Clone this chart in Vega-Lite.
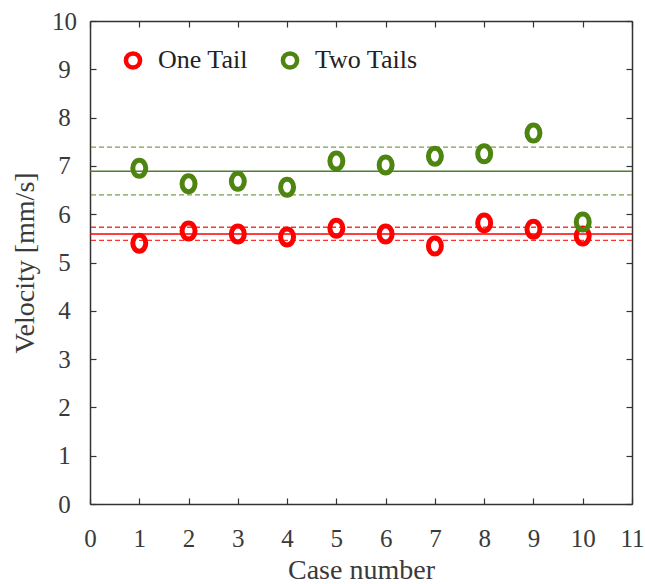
{
  "$schema": "https://vega.github.io/schema/vega-lite/v6.json",
  "width": 542,
  "height": 483,
  "autosize": {"type": "none"},
  "padding": {"left": 90, "top": 21, "right": 13, "bottom": 80},
  "background": "white",
  "config": {
    "view": {"stroke": null},
    "axis": {
      "grid": false,
      "domainColor": "#333333",
      "domainWidth": 1.5,
      "tickColor": "#333333",
      "tickWidth": 1.2,
      "tickSize": -6,
      "labelFlush": false,
      "labelFont": "Times New Roman, Liberation Serif, serif",
      "labelFontSize": 25,
      "labelColor": "#3a3a3a",
      "titleFont": "Times New Roman, Liberation Serif, serif",
      "titleFontSize": 28,
      "titleFontWeight": "normal",
      "titleColor": "#3a3a3a"
    },
    "legend": {
      "labelFont": "Times New Roman, Liberation Serif, serif",
      "labelFontSize": 26,
      "labelColor": "#222222"
    }
  },
  "datasets": {
    "points": [
      {"case": 1, "velocity": 5.40, "series": "One Tail"},
      {"case": 2, "velocity": 5.65, "series": "One Tail"},
      {"case": 3, "velocity": 5.59, "series": "One Tail"},
      {"case": 4, "velocity": 5.53, "series": "One Tail"},
      {"case": 5, "velocity": 5.71, "series": "One Tail"},
      {"case": 6, "velocity": 5.59, "series": "One Tail"},
      {"case": 7, "velocity": 5.34, "series": "One Tail"},
      {"case": 8, "velocity": 5.82, "series": "One Tail"},
      {"case": 9, "velocity": 5.69, "series": "One Tail"},
      {"case": 10, "velocity": 5.55, "series": "One Tail"},
      {"case": 1, "velocity": 6.95, "series": "Two Tails"},
      {"case": 2, "velocity": 6.63, "series": "Two Tails"},
      {"case": 3, "velocity": 6.68, "series": "Two Tails"},
      {"case": 4, "velocity": 6.56, "series": "Two Tails"},
      {"case": 5, "velocity": 7.10, "series": "Two Tails"},
      {"case": 6, "velocity": 7.02, "series": "Two Tails"},
      {"case": 7, "velocity": 7.20, "series": "Two Tails"},
      {"case": 8, "velocity": 7.25, "series": "Two Tails"},
      {"case": 9, "velocity": 7.68, "series": "Two Tails"},
      {"case": 10, "velocity": 5.84, "series": "Two Tails"}
    ],
    "lines": [
      {"series": "One Tail", "kind": "mean", "velocity": 5.59},
      {"series": "One Tail", "kind": "bound", "velocity": 5.73},
      {"series": "One Tail", "kind": "bound", "velocity": 5.46},
      {"series": "Two Tails", "kind": "mean", "velocity": 6.89},
      {"series": "Two Tails", "kind": "bound", "velocity": 7.39},
      {"series": "Two Tails", "kind": "bound", "velocity": 6.40}
    ]
  },
  "layer": [
    {
      "data": {"name": "lines"},
      "transform": [{"filter": "datum.series === 'One Tail' && datum.kind === 'bound'"}],
      "mark": {"type": "rule", "strokeWidth": 1.3, "color": "#ff3030", "strokeDash": [5, 3]},
      "encoding": {"y": {"field": "velocity", "type": "quantitative", "scale": {"domain": [0, 10]}, "axis": null}}
    },
    {
      "data": {"name": "lines"},
      "transform": [{"filter": "datum.series === 'One Tail' && datum.kind === 'mean'"}],
      "mark": {"type": "rule", "strokeWidth": 1.4, "color": "#ff0000"},
      "encoding": {"y": {"field": "velocity", "type": "quantitative", "scale": {"domain": [0, 10]}, "axis": null}}
    },
    {
      "data": {"name": "lines"},
      "transform": [{"filter": "datum.series === 'Two Tails' && datum.kind === 'bound'"}],
      "mark": {"type": "rule", "strokeWidth": 1.3, "color": "#7a9e4a", "strokeDash": [5, 3]},
      "encoding": {"y": {"field": "velocity", "type": "quantitative", "scale": {"domain": [0, 10]}, "axis": null}}
    },
    {
      "data": {"name": "lines"},
      "transform": [{"filter": "datum.series === 'Two Tails' && datum.kind === 'mean'"}],
      "mark": {"type": "rule", "strokeWidth": 1.4, "color": "#4e7f2a"},
      "encoding": {"y": {"field": "velocity", "type": "quantitative", "scale": {"domain": [0, 10]}, "axis": null}}
    },
    {
      "data": {"name": "points"},
      "mark": {"type": "point", "shape": "M-0.81,0A0.81,1 0 1,1 0.81,0A0.81,1 0 1,1 -0.81,0Z", "filled": false, "strokeWidth": 5, "size": 256, "opacity": 1},
      "encoding": {
        "x": {"field": "case", "type": "quantitative", "scale": {"domain": [0, 11]}, "axis": {"orient": "bottom", "values": [0,1,2,3,4,5,6,7,8,9,10,11], "title": "Case number", "labelPadding": 28, "titleY": 66, "titleBaseline": "middle"}},
        "y": {"field": "velocity", "type": "quantitative", "scale": {"domain": [0, 10]}, "axis": {"orient": "left", "values": [0,1,2,3,4,5,6,7,8,9,10], "title": "Velocity [mm/s]", "labelPadding": 32, "labelAlign": "center", "titleX": -65, "titleBaseline": "middle"}},
        "color": {"field": "series", "type": "nominal", "scale": {"domain": ["One Tail", "Two Tails"], "range": ["#ff0000", "#4e8410"]},
          "legend": {"title": null, "orient": "none", "legendX": 30, "legendY": 26, "direction": "horizontal", "symbolType": "circle", "symbolSize": 200, "symbolStrokeWidth": 4.5, "symbolFillColor": "white", "labelOffset": 12, "columnPadding": 25}}
      }
    },
    {
      "data": {"name": "points"},
      "mark": {"type": "point", "opacity": 0},
      "encoding": {
        "x": {"field": "case", "type": "quantitative", "scale": {"domain": [0, 11]}, "axis": {"orient": "top", "values": [0,1,2,3,4,5,6,7,8,9,10,11], "labels": false, "title": null}},
        "y": {"field": "velocity", "type": "quantitative", "scale": {"domain": [0, 10]}, "axis": {"orient": "right", "values": [0,1,2,3,4,5,6,7,8,9,10], "labels": false, "title": null}}
      }
    }
  ],
  "resolve": {"axis": {"x": "independent", "y": "independent"}}
}
